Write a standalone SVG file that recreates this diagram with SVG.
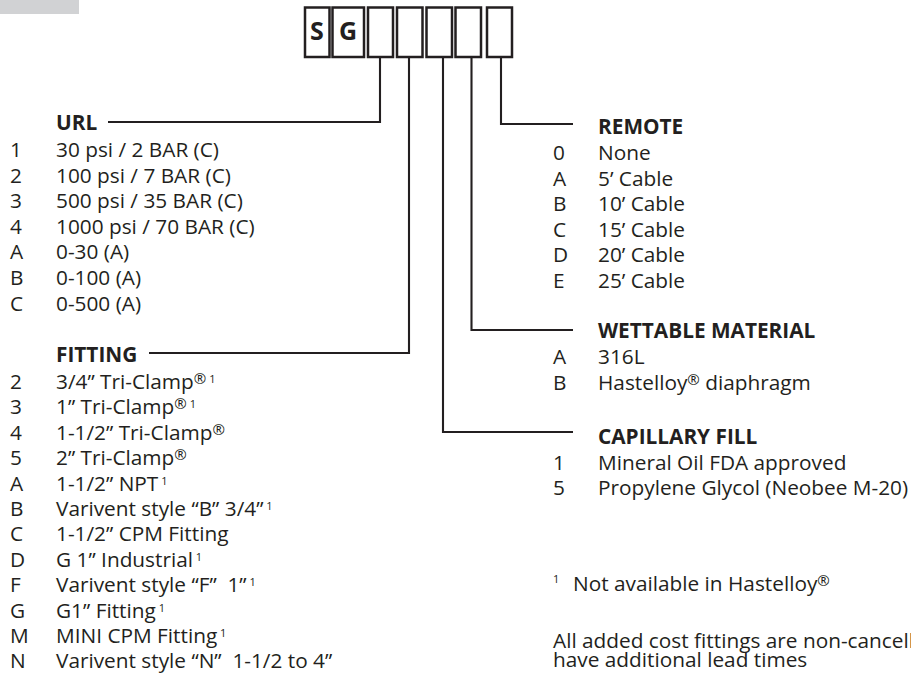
<svg xmlns="http://www.w3.org/2000/svg" width="911" height="677" viewBox="0 0 911 677">
<style>
text{font-family:"Open Sans","Noto Sans","Liberation Sans",sans-serif;font-size:20.8px;fill:#231f20}
.h{font-weight:bold}
.code{font-weight:bold;font-size:25px;text-anchor:middle}
.box{fill:#fff;stroke:#231f20;stroke-width:2.5}
.ln{fill:none;stroke:#231f20;stroke-width:2.1}
.r{font-size:15px}
.s{font-size:11px}
</style>
<rect x="0" y="0" width="79" height="14" fill="#d1d2d4"/>
<g id="code-boxes">
<g id="box-s"><rect class="box" x="305" y="7.5" width="24.5" height="49.5"/><text class="code" x="317" y="39.5">S</text></g>
<g id="box-g"><rect class="box" x="332.5" y="7.5" width="31.5" height="49.5"/><text class="code" x="348" y="39.5">G</text></g>
<g id="box-url"><rect class="box" x="368" y="7.5" width="25" height="49.5"/></g>
<g id="box-fitting"><rect class="box" x="397" y="7.5" width="25.5" height="49.5"/></g>
<g id="box-fill"><rect class="box" x="426.5" y="7.5" width="25.5" height="49.5"/></g>
<g id="box-material"><rect class="box" x="455.5" y="7.5" width="25.5" height="49.5"/></g>
<g id="box-remote"><rect class="box" x="487" y="7.5" width="25" height="49.5"/></g>
</g>
<g id="connectors">
<polyline class="ln" points="380,57 380,122 108,122"/>
<polyline class="ln" points="409,57 409,353 149,353"/>
<polyline class="ln" points="443,57 443,432 573,432"/>
<polyline class="ln" points="471.5,57 471.5,330 573,330"/>
<polyline class="ln" points="501,57 501,124 573,124"/>
</g>
<g id="url">
<text class="h" x="56" y="130">URL</text>
<text x="10" y="157">1</text><text x="56" y="157">30 psi / 2 BAR (C)</text>
<text x="10" y="182.6">2</text><text x="56" y="182.6">100 psi / 7 BAR (C)</text>
<text x="10" y="208.2">3</text><text x="56" y="208.2">500 psi / 35 BAR (C)</text>
<text x="10" y="233.8">4</text><text x="56" y="233.8">1000 psi / 70 BAR (C)</text>
<text x="10" y="259.4">A</text><text x="56" y="259.4">0-30 (A)</text>
<text x="10" y="285">B</text><text x="56" y="285">0-100 (A)</text>
<text x="10" y="310.6">C</text><text x="56" y="310.6">0-500 (A)</text>
</g>
<g id="fitting">
<text class="h" x="56" y="362">FITTING</text>
<text x="10" y="389">2</text><text x="56" y="389">3/4” Tri-Clamp<tspan class="r" baseline-shift="5">®</tspan><tspan class="s" baseline-shift="6"> 1</tspan></text>
<text x="10" y="414.4">3</text><text x="56" y="414.4">1” Tri-Clamp<tspan class="r" baseline-shift="5">®</tspan><tspan class="s" baseline-shift="6"> 1</tspan></text>
<text x="10" y="439.8">4</text><text x="56" y="439.8">1-1/2” Tri-Clamp<tspan class="r" baseline-shift="5">®</tspan></text>
<text x="10" y="465.2">5</text><text x="56" y="465.2">2” Tri-Clamp<tspan class="r" baseline-shift="5">®</tspan></text>
<text x="10" y="490.6">A</text><text x="56" y="490.6">1-1/2” NPT<tspan class="s" baseline-shift="6"> 1</tspan></text>
<text x="10" y="516">B</text><text x="56" y="516">Varivent style “B” 3/4”<tspan class="s" baseline-shift="6"> 1</tspan></text>
<text x="10" y="541.4">C</text><text x="56" y="541.4">1-1/2” CPM Fitting</text>
<text x="10" y="566.8">D</text><text x="56" y="566.8">G 1” Industrial<tspan class="s" baseline-shift="6"> 1</tspan></text>
<text x="10" y="592.2">F</text><text x="56" y="592.2" xml:space="preserve">Varivent style “F”  1”<tspan class="s" baseline-shift="6"> 1</tspan></text>
<text x="10" y="617.6">G</text><text x="56" y="617.6">G1” Fitting<tspan class="s" baseline-shift="6"> 1</tspan></text>
<text x="10" y="643">M</text><text x="56" y="643">MINI CPM Fitting<tspan class="s" baseline-shift="6"> 1</tspan></text>
<text x="10" y="668.4">N</text><text x="56" y="668.4" xml:space="preserve">Varivent style “N”  1-1/2 to 4”</text>
</g>
<g id="remote">
<text class="h" x="598" y="134">REMOTE</text>
<text x="553" y="160">0</text><text x="598" y="160">None</text>
<text x="553" y="185.5">A</text><text x="598" y="185.5">5’ Cable</text>
<text x="553" y="211">B</text><text x="598" y="211">10’ Cable</text>
<text x="553" y="236.5">C</text><text x="598" y="236.5">15’ Cable</text>
<text x="553" y="262">D</text><text x="598" y="262">20’ Cable</text>
<text x="553" y="287.5">E</text><text x="598" y="287.5">25’ Cable</text>
</g>
<g id="wettable-material">
<text class="h" x="598" y="337.5">WETTABLE MATERIAL</text>
<text x="553" y="364">A</text><text x="598" y="364">316L</text>
<text x="553" y="389.5">B</text><text x="598" y="389.5">Hastelloy<tspan class="r" baseline-shift="5">®</tspan> diaphragm</text>
</g>
<g id="capillary-fill">
<text class="h" x="598" y="444">CAPILLARY FILL</text>
<text x="553" y="470">1</text><text x="598" y="470">Mineral Oil FDA approved</text>
<text x="553" y="495">5</text><text x="598" y="495">Propylene Glycol (Neobee M-20)</text>
</g>
<g id="notes">
<text class="s" x="553" y="583">1</text><text x="573" y="590.5">Not available in Hastelloy<tspan class="r" baseline-shift="5">®</tspan></text>
<text x="553" y="648">All added cost fittings are non-cancell</text>
<text x="553" y="667">have additional lead times</text>
</g>
</svg>
